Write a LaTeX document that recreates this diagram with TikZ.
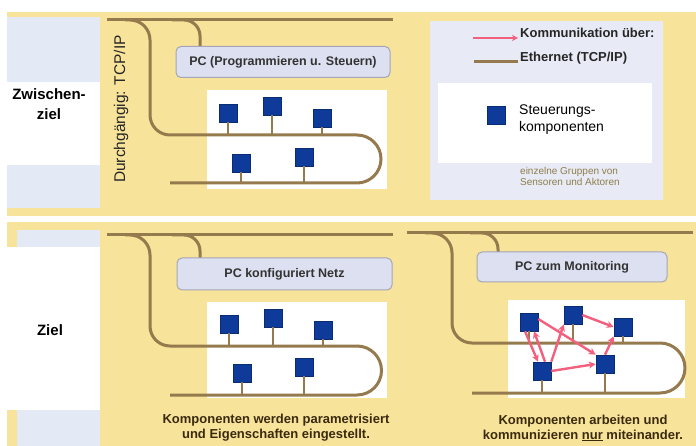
\documentclass[tikz,border=0pt]{standalone}
\usepackage{fontspec}
\setmainfont{Liberation Sans}
\usetikzlibrary{arrows.meta}
\definecolor{yellowbg}{HTML}{F8E39A}
\definecolor{leftblue}{HTML}{E4E9F6}
\definecolor{legendlav}{HTML}{E8EAF5}
\definecolor{netbrown}{HTML}{957A4E}
\definecolor{compblue}{HTML}{0E3A9A}
\definecolor{pcfill}{HTML}{DDE0F0}
\definecolor{pcdraw}{HTML}{A4A6B8}
\definecolor{msgpink}{HTML}{F2607E}
\definecolor{captxt}{HTML}{3A2A10}
\definecolor{smalltxt}{HTML}{8E7E4C}
\begin{document}
\begin{tikzpicture}[x=1pt,y=-1pt,
  net/.style={draw=netbrown, line width=3pt},
  stem/.style={draw=netbrown, line width=2.2pt},
  comp/.style={fill=compblue, draw=compblue!75!black, line width=0.6pt, minimum size=18pt, inner sep=0pt},
  pcbox/.style={rounded corners=5pt, fill=pcfill, draw=pcdraw, line width=1pt, text=black!80, font=\bfseries\fontsize{12.5}{15}\selectfont},
  msg/.style={draw=msgpink, line width=2.4pt, -{Stealth[length=7pt,width=7pt]}},
  caption/.style={align=center, text=captxt, font=\bfseries\fontsize{13}{15}\selectfont},
  side/.style={align=center, font=\bfseries\fontsize{15}{20}\selectfont},
  legtxt/.style={anchor=west, inner sep=0pt, text=black!85, font=\bfseries\fontsize{13}{15}\selectfont}
]
\useasboundingbox (0,0) rectangle (696,446);
\fill[white] (0,0) rectangle (696,446);
% bands
\fill[yellowbg] (7,12) rectangle (696,216);
\fill[yellowbg] (7,222) rectangle (696,446);
% left column
\fill[leftblue] (7,17) rectangle (100,82);
\fill[white] (0,82) rectangle (100,165);
\fill[leftblue] (7,165) rectangle (100,208);
\fill[leftblue] (17,230) rectangle (100,247);
\fill[white] (0,247) rectangle (100,410);
\fill[leftblue] (17,410) rectangle (100,446);
\node[side] (zz) at (49,104) {Zwischen-\\ziel};
\node[side] (ziel) at (50,330) {Ziel};

% ---------- top-left panel ----------
\fill[white] (207,90) rectangle (387,189);
\draw[net] (107,20) -- (393,20);
\draw[net, rounded corners=20pt] (125,20) -- (150,20) -- (150,135) -- (357,135);
\draw[net] (357,135) arc[start angle=-90, end angle=90, radius=24] -- (170,183);
\draw[net, rounded corners=16pt] (172,20) -- (200,20) -- (200,48);
\node[rotate=90, font=\fontsize{15.5}{17}\selectfont, text=black!85] (dg) at (121,109) {Durchgängig: TCP/IP};
\node[pcbox, minimum width=214pt, minimum height=31pt] (pc1) at (283,62) {PC (Programmieren u. Steuern)};
\node[comp] (t1) at (228,113) {};
\node[comp] (t2) at (272,106) {};
\node[comp] (t3) at (322,118) {};
\node[comp] (t4) at (241,163) {};
\node[comp] (t5) at (304,157) {};
\draw[stem] (t1.south) -- ++(0,13);
\draw[stem] (t2.south) -- ++(0,20);
\draw[stem] (t3.south) -- ++(0,8);
\draw[stem] (t4.south) -- ++(0,11);
\draw[stem] (t5.south) -- ++(0,17);

% ---------- legend ----------
\fill[legendlav] (430,21) rectangle (663,200);
\fill[white] (438,83) rectangle (652,163);
\coordinate (la) at (473,38);
\coordinate (lb) at (518,38);
\draw[msg, -{Stealth[length=6pt,width=6pt]}] (la) -- (lb);
\node[legtxt] (l1) at (520,33) {Kommunikation über:};
\coordinate (lc) at (474,62);
\coordinate (ld) at (518,62);
\draw[net] (lc) -- (ld);
\node[legtxt] (l2) at (520,58) {Ethernet (TCP/IP)};
\node[comp, minimum size=18pt] (lg) at (496,115) {};
\node[anchor=north west, inner sep=0pt, align=left, font=\fontsize{14}{17}\selectfont] (l3) at (519,105) {Steuerungs-\\komponenten};
\node[anchor=north west, inner sep=0pt, align=left, text=smalltxt, font=\fontsize{10}{11}\selectfont] (l4) at (520,167) {einzelne Gruppen von\\Sensoren und Aktoren};

% ---------- bottom-left panel ----------
\fill[white] (207,302) rectangle (387,398);
\draw[net] (107,235) -- (393,235);
\draw[net, rounded corners=20pt] (125,235) -- (150,235) -- (150,346) -- (357,346);
\draw[net] (357,346) arc[start angle=-90, end angle=90, radius=24.5] -- (170,395);
\draw[net, rounded corners=16pt] (172,235) -- (200,235) -- (200,259);
\node[pcbox, minimum width=215pt, minimum height=32pt] (pc2) at (284.5,274) {PC konfiguriert Netz};
\node[comp] (b1) at (229,324) {};
\node[comp] (b2) at (273,318) {};
\node[comp] (b3) at (323,330) {};
\node[comp] (b4) at (242,373) {};
\node[comp] (b5) at (304,367) {};
\draw[stem] (b1.south) -- ++(0,13);
\draw[stem] (b2.south) -- ++(0,19);
\draw[stem] (b3.south) -- ++(0,7);
\draw[stem] (b4.south) -- ++(0,13);
\draw[stem] (b5.south) -- ++(0,19);
\node[caption] (cap1) at (276,428) {Komponenten werden parametrisiert\\und Eigenschaften eingestellt.};

% ---------- bottom-right panel ----------
\fill[white] (508,300) rectangle (685,398);
\draw[net] (407,233) -- (693,233);
\draw[net, rounded corners=20pt] (425,233) -- (452,233) -- (452,343) -- (660,343);
\draw[net] (660,343) arc[start angle=-90, end angle=90, radius=25] -- (472,393);
\draw[net, rounded corners=16pt] (470,233) -- (498,233) -- (498,253);
\node[pcbox, minimum width=190pt, minimum height=30pt] (pc3) at (572,267) {PC zum Monitoring};
\node[comp] (A) at (529,322) {};
\node[comp] (B) at (573,315) {};
\node[comp] (C) at (623,327) {};
\node[comp] (D) at (542,371) {};
\node[comp] (E) at (605,364) {};
\draw[stem] (A.south) -- ++(0,12);
\draw[stem] (B.south) -- ++(0,19);
\draw[stem] (C.south) -- ++(0,7);
\draw[stem] (D.south) -- ++(0,13);
\draw[stem] (E.south) -- ++(0,20);
\draw[msg] ([xshift=-4pt]A.south) -- ([xshift=-4pt]D.north);
\draw[msg] ([xshift=3pt]D.north) -- ([xshift=5pt]A.south);
\draw[msg] (D.north east) -- (B.south west);
\draw[msg] ([yshift=3pt]A.east) -- (E.north west);
\draw[msg] (D.east) -- (E.west);
\draw[msg] (B.east) -- (C.west);
\draw[msg] (E.north) -- (C.south west);
\node[caption] (cap2) at (583,428) {Komponenten arbeiten und\\kommunizieren \underline{nur} miteinander.};
\end{tikzpicture}
\end{document}
